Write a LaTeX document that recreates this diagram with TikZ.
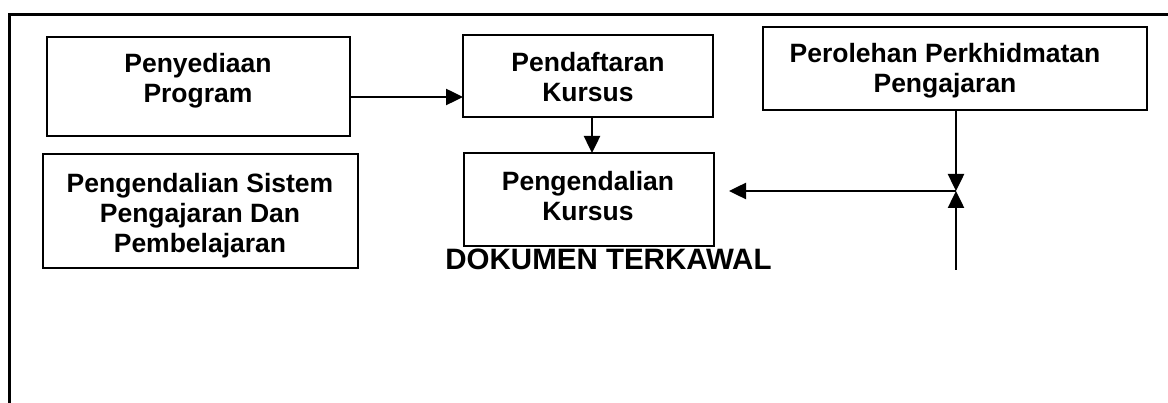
\documentclass[tikz,border=0pt]{standalone}
\usepackage{fontspec}
\setmainfont{Liberation Sans}
\usetikzlibrary{arrows.meta}
\begin{document}
\begin{tikzpicture}[x=1pt,y=-1pt,
  box/.style={draw,line width=2pt,inner sep=0pt,outer sep=0pt,rectangle},
  lbl/.style={align=center,inner sep=0pt,font=\bfseries\fontsize{26.5}{30}\selectfont},
  arr/.style={line width=2.5pt,-{Triangle[length=17pt,width=16pt]}},
  frame/.style={line width=3pt}]
\useasboundingbox (0,0) rectangle (1168,403);
\draw[frame] (9,403) -- (9,14.5) -- (1168,14.5);
% boxes
\node[box,minimum width=303pt,minimum height=99pt] (b1) at (198.5,86.5) {};
\node[box,minimum width=250pt,minimum height=82pt] (b2) at (588,76) {};
\node[box,minimum width=384pt,minimum height=83pt] (b3) at (955,68.5) {};
\node[box,minimum width=315pt,minimum height=114pt] (b4) at (200.5,211) {};
\node[box,minimum width=250pt,minimum height=93pt] (b5) at (589,199.5) {};
% labels
\node[lbl] (t1) at (198,81) {Penyediaan\\Program};
\node[lbl] (t2) at (588,77) {Pendaftaran\\Kursus};
\node[lbl] (t3) at (945,71) {Perolehan Perkhidmatan\\Pengajaran};
\node[lbl] (t4) at (200,216) {Pengendalian Sistem\\Pengajaran Dan\\Pembelajaran};
\node[lbl] (t5) at (588,196) {Pengendalian\\Kursus};
\node[inner sep=0pt,font=\bfseries\fontsize{29.5}{32}\selectfont] (doc) at (608.5,259.5) {DOKUMEN TERKAWAL};
% connectors
\coordinate (j) at (956,191);
\coordinate (low) at (956,270);
\coordinate (tip) at (729,191);
\draw[arr] ([yshift=-10.5pt]b1.east) -- ([yshift=-10.5pt]b1.east -| b2.west);
\draw[arr] ([xshift=4pt]b2.south) -- ([xshift=4pt]b2.south |- b5.north);
\draw[arr] (b3.south -| j) -- (j);
\draw[arr] (low) -- (j);
\draw[arr] (j) -- (tip);
\end{tikzpicture}
\end{document}
